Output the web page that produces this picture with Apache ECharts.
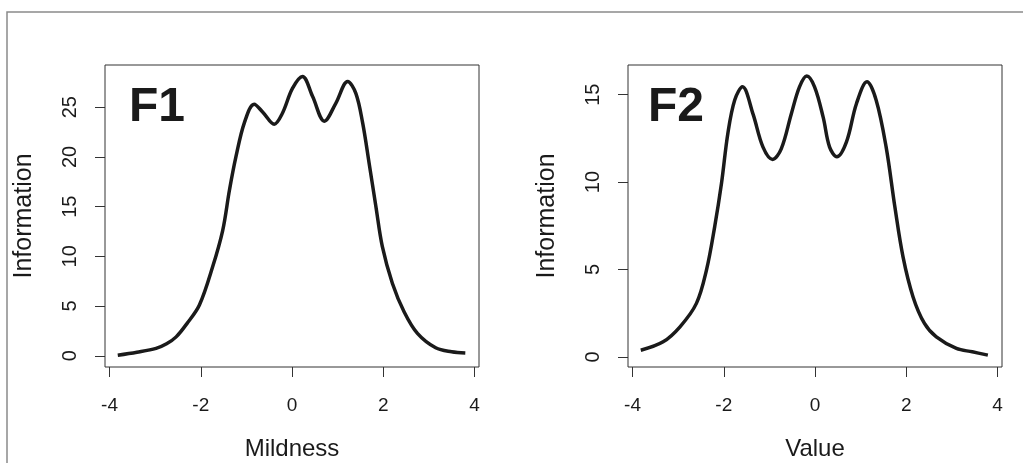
<!DOCTYPE html>
<html>
<head>
<meta charset="utf-8">
<script src="https://cdn.jsdelivr.net/npm/echarts@6/dist/echarts.min.js"></script>
<style>
  html, body { margin: 0; padding: 0; background: #fff; }
  #main { width: 1023px; height: 463px; }
</style>
</head>
<body>
<div id="main"></div>
<script>
// F1 information curve (Mildness)
const f1X = [-3.82, -3.4, -2.98, -2.75, -2.54, -2.3, -2.03, -1.74, -1.52, -1.37, -1.23, -1.04, -0.83, -0.64, -0.39, -0.21, 0.01, 0.23, 0.45, 0.71, 0.96, 1.22, 1.40, 1.55, 1.69, 1.84, 1.98, 2.20, 2.46, 2.75, 3.15, 3.5, 3.80]
const f1Y = [0.05, 0.35, 0.74, 1.2, 1.9, 3.26, 5.1, 8.95, 12.6, 16.7, 20.0, 23.5, 25.3, 24.5, 23.3, 24.4, 26.9, 28.1, 26.1, 23.6, 25.4, 27.6, 26.4, 23.4, 19.4, 15.0, 11.0, 7.3, 4.4, 2.25, 0.8, 0.4, 0.28]

// F2 information curve (Value)
const f2X = [-3.82, -3.33, -2.96, -2.6, -2.38, -2.20, -2.05, -1.91, -1.76, -1.59, -1.36, -1.14, -0.93, -0.74, -0.52, -0.34, -0.18, -0.01, 0.18, 0.32, 0.48, 0.69, 0.91, 1.14, 1.34, 1.56, 1.75, 1.93, 2.15, 2.40, 2.66, 3.10, 3.45, 3.79]
const f2Y = [0.38, 0.86, 1.72, 3.06, 4.96, 7.44, 9.93, 12.8, 14.7, 15.45, 13.9, 12.0, 11.3, 11.9, 13.9, 15.45, 16.07, 15.45, 13.7, 12.0, 11.45, 12.3, 14.5, 15.74, 14.7, 12.0, 8.6, 5.72, 3.43, 1.91, 1.14, 0.48, 0.29, 0.1]

const xTicks = [-4, -2, 0, 2, 4]
const f1YTicks = [0, 5, 10, 15, 20, 25]
const f2YTicks = [0, 5, 10, 15]

const font = "'Liberation Sans', Arial, sans-serif"
const ink = '#1a1a1a'

const pairs = (xs, ys) => xs.map((x, i) => [x, ys[i]])

const xAxisOf = (gridIndex, name) => ({
    type: 'value',
    gridIndex: gridIndex,
    position: 'bottom',
    min: -4.1,
    max: 4.1,
    name: name,
    nameLocation: 'middle',
    nameGap: 70,
    nameTextStyle: { fontFamily: font, fontSize: 24, color: ink },
    axisLine: { show: false, onZero: false },
    splitLine: { show: false },
    axisTick: { show: true, length: 10, customValues: xTicks, lineStyle: { color: '#333' } },
    axisLabel: { customValues: xTicks, margin: 29, fontFamily: font, fontSize: 19, color: ink }
})

const yAxisOf = (gridIndex, min, max, ticks) => ({
    type: 'value',
    gridIndex: gridIndex,
    position: 'left',
    min: min,
    max: max,
    name: 'Information',
    nameLocation: 'middle',
    nameGap: 68,
    nameTextStyle: { fontFamily: font, fontSize: 25, color: ink },
    axisLine: { show: false, onZero: false },
    splitLine: { show: false },
    axisTick: { show: true, length: 10, customValues: ticks, lineStyle: { color: '#333' } },
    axisLabel: { customValues: ticks, rotate: 90, margin: 25, fontFamily: font, fontSize: 20, color: ink }
})

const chart = echarts.init(document.getElementById('main'))
chart.setOption({
    backgroundColor: '#fff',
    animation: false,
    title: [
        { text: 'F1', left: 124, top: 79, textStyle: { fontFamily: font, fontSize: 48, fontWeight: 'bold', color: ink } },
        { text: 'F2', left: 643, top: 79, textStyle: { fontFamily: font, fontSize: 48, fontWeight: 'bold', color: ink } }
    ],
    graphic: [{
        type: 'rect',
        silent: true,
        shape: { x: 7, y: 12, width: 1100, height: 600 },
        style: { fill: 'none', stroke: '#8a8a8a', lineWidth: 1.5 }
    }],
    grid: [
        { left: 105, top: 65, width: 374, height: 302, outerBoundsMode: 'none', show: true, borderColor: '#333', borderWidth: 1 },
        { left: 628, top: 65, width: 374, height: 302, outerBoundsMode: 'none', show: true, borderColor: '#333', borderWidth: 1 }
    ],
    xAxis: [xAxisOf(0, 'Mildness'), xAxisOf(1, 'Value')],
    yAxis: [yAxisOf(0, -1.13, 29.25, f1YTicks), yAxisOf(1, -0.58, 16.7, f2YTicks)],
    series: [
        {
            type: 'line', xAxisIndex: 0, yAxisIndex: 0,
            data: pairs(f1X, f1Y), smooth: 0.35, showSymbol: false,
            lineStyle: { color: ink, width: 3.5 }
        },
        {
            type: 'line', xAxisIndex: 1, yAxisIndex: 1,
            data: pairs(f2X, f2Y), smooth: 0.35, showSymbol: false,
            lineStyle: { color: ink, width: 3.5 }
        }
    ]
})

window.addEventListener('resize', () => chart && chart.resize())
</script>
</body>
</html>
